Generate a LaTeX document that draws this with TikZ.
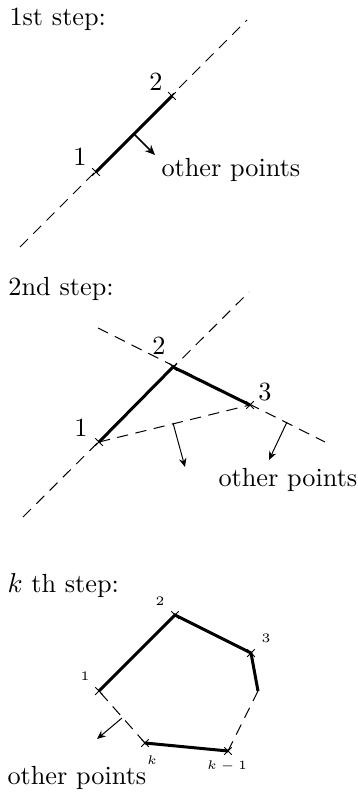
\documentclass[tikz,border=0pt]{standalone}
\usetikzlibrary{arrows.meta,calc}
\begin{document}
\begin{tikzpicture}[x=0.4pt,y=-0.4pt,
  dashline/.style={line width=0.4pt,dash pattern=on 4.5pt off 3pt},
  hull/.style={line width=1.2pt},
  push/.style={line width=0.6pt,-{Stealth[length=4pt,width=3.5pt]}},
  pushthin/.style={line width=0.4pt,-{Stealth[length=3.5pt,width=3pt]}},
  lbl/.style={inner sep=0pt,font=\fontsize{10.5pt}{12.6pt}\selectfont},
  smalllbl/.style={inner sep=0pt,font=\fontsize{5.2pt}{6.2pt}\selectfont},
  txt/.style={inner sep=0pt,anchor=base west,font=\fontsize{10.5pt}{12.6pt}\selectfont},
  xmark/.pic={\draw[line width=0.4pt] (-1.5pt,-1.5pt)--(1.5pt,1.5pt) (-1.5pt,1.5pt)--(1.5pt,-1.5pt);}]
\useasboundingbox (0,0) rectangle (358,792);

% ---------- 1st step ----------
\node[txt] (t1) at (9,26) {1st step:};
\coordinate (a1) at (96,172);
\coordinate (a2) at (172,96);
\coordinate (aS) at (20,247);
\coordinate (aE) at (247,20);
\draw[dashline] (aS) -- (aE);
\draw[hull] (a1) -- (a2);
\pic at (a1) {xmark};
\pic at (a2) {xmark};
\coordinate (am) at ($(a1)!0.5!(a2)$);
\coordinate (aa) at (155,155);
\draw[push] (am) -- (aa);
\node[lbl] (l1) at (80,157) {1};
\node[lbl] (l2) at (156,82) {2};
\node[txt] (o1) at (161,177) {other points};

% ---------- 2nd step ----------
\node[txt] (t2) at (8,296) {2nd step:};
\coordinate (b1) at (99,442);
\coordinate (b2) at (173,367);
\coordinate (b3) at (250,405);
\coordinate (bS) at (23,517);
\coordinate (bE) at (249,292);
\coordinate (cS) at (98,328);
\coordinate (cE) at (325,442);
\draw[dashline] (bS) -- (bE);
\draw[dashline] (cS) -- (cE);
\draw[dashline] (b1) -- (b3);
\draw[hull] (b1) -- (b2) -- (b3);
\pic at (b1) {xmark};
\pic at (b2) {xmark};
\pic at (b3) {xmark};
\coordinate (bp1) at (173,423);
\coordinate (bq1) at (185,467);
\coordinate (bp2) at (287,422);
\coordinate (bq2) at (269,460);
\draw[pushthin] (bp1) -- (bq1);
\draw[pushthin] (bp2) -- (bq2);
\node[lbl] (m1) at (81,428) {1};
\node[lbl] (m2) at (159,346) {2};
\node[lbl] (m3) at (265,392) {3};
\node[txt] (o2) at (218,486) {other points};

% ---------- k th step ----------
\node[txt] (t3) at (7,592) {$k$ th step:};
\coordinate (c1) at (99,691);
\coordinate (c2) at (175,615);
\coordinate (c3) at (251,653);
\coordinate (c4) at (258,691);
\coordinate (ck1) at (228,751);
\coordinate (ck) at (145,743);
\draw[hull] (c1) -- (c2) -- (c3) -- (c4);
\draw[hull] (ck1) -- (ck);
\draw[dashline] (c4) -- (ck1);
\draw[dashline] (ck) -- (c1);
\pic at (c1) {xmark};
\pic at (c2) {xmark};
\pic at (c3) {xmark};
\pic at (ck1) {xmark};
\pic at (ck) {xmark};
\coordinate (cp) at (122,718);
\coordinate (cq) at (97,739);
\draw[pushthin] (cp) -- (cq);
\node[smalllbl] (n1) at (85,676) {1};
\node[smalllbl] (n2) at (160,601) {2};
\node[smalllbl] (n3) at (266,638) {3};
\node[smalllbl] (nk) at (152,760) {$k$};
\node[smalllbl] (nk1) at (227,766) {$k-1$};
\node[txt] (o3) at (7,784) {other points};
\end{tikzpicture}
\end{document}
